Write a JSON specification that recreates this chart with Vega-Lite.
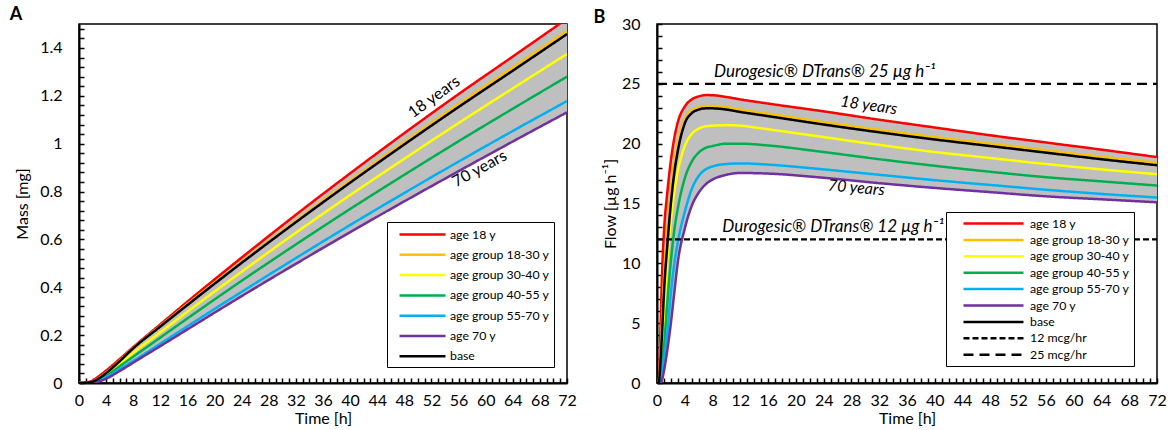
{
  "$schema": "https://vega.github.io/schema/vega-lite/v6.json",
  "padding": {"left": 8, "top": 5, "right": 0, "bottom": 0},
  "bounds": "flush",
  "spacing": 90,
  "resolve": {"scale": {"color": "independent", "strokeDash": "independent"}, "legend": {"color": "independent", "strokeDash": "independent"}},
  "config": {
    "font": "Lato",
    "view": {"stroke": "black", "strokeWidth": 1.5},
    "axis": {"domainColor": "black", "domainWidth": 2, "tickColor": "black", "tickWidth": 1.5, "tickSize": -5, "grid": false, "labelFont": "Lato", "labelFontSize": 16, "labelColor": "black", "titleFont": "Lato", "titleFontSize": 16, "titleFontWeight": "normal", "titleColor": "black", "labelOverlap": false, "labelBound": false, "labelFlush": false},
    "axisX": {"labelPadding": 14, "titlePadding": 2},
    "axisY": {"labelPadding": 22},
    "title": {"font": "Lato", "fontSize": 18, "fontWeight": "bold", "anchor": "start", "frame": "bounds", "color": "black", "baseline": "alphabetic"},
    "legend": {"orient": "none", "title": null, "labelFont": "Lato", "labelFontSize": 12.3, "labelColor": "black", "strokeColor": "black", "fillColor": "white", "padding": 4, "symbolStrokeWidth": 2.5}
  },
  "datasets": {
    "mass": [
      {"t": 0, "age 18 y": 0, "age group 18-30 y": 0, "age group 30-40 y": 0, "age group 40-55 y": 0, "age group 55-70 y": 0, "age 70 y": 0, "base": 0},
      {"t": 1, "age 18 y": 0.002, "age group 18-30 y": 0.001, "age group 30-40 y": 0.001, "age group 40-55 y": 0.001, "age group 55-70 y": 0.0004, "age 70 y": 0.0002, "base": 0.001},
      {"t": 2, "age 18 y": 0.01, "age group 18-30 y": 0.007, "age group 30-40 y": 0.005, "age group 40-55 y": 0.004, "age group 55-70 y": 0.003, "age 70 y": 0.002, "base": 0.006},
      {"t": 3, "age 18 y": 0.03, "age group 18-30 y": 0.022, "age group 30-40 y": 0.016, "age group 40-55 y": 0.013, "age group 55-70 y": 0.011, "age 70 y": 0.007, "base": 0.02},
      {"t": 4, "age 18 y": 0.052, "age group 18-30 y": 0.043, "age group 30-40 y": 0.034, "age group 40-55 y": 0.029, "age group 55-70 y": 0.024, "age 70 y": 0.018, "base": 0.041},
      {"t": 6, "age 18 y": 0.1, "age group 18-30 y": 0.093, "age group 30-40 y": 0.078, "age group 40-55 y": 0.07, "age group 55-70 y": 0.058, "age 70 y": 0.05, "base": 0.091},
      {"t": 8, "age 18 y": 0.15, "age group 18-30 y": 0.147, "age group 30-40 y": 0.126, "age group 40-55 y": 0.11, "age group 55-70 y": 0.092, "age 70 y": 0.085, "base": 0.145},
      {"t": 12, "age 18 y": 0.245, "age group 18-30 y": 0.2385, "age group 30-40 y": 0.212, "age group 40-55 y": 0.19, "age group 55-70 y": 0.164, "age 70 y": 0.154, "base": 0.236},
      {"t": 16, "age 18 y": 0.34, "age group 18-30 y": 0.33, "age group 30-40 y": 0.298, "age group 40-55 y": 0.27, "age group 55-70 y": 0.237, "age 70 y": 0.224, "base": 0.326},
      {"t": 24, "age 18 y": 0.524, "age group 18-30 y": 0.507, "age group 30-40 y": 0.465, "age group 40-55 y": 0.427, "age group 55-70 y": 0.381, "age 70 y": 0.363, "base": 0.502},
      {"t": 32, "age 18 y": 0.703, "age group 18-30 y": 0.679, "age group 30-40 y": 0.628, "age group 40-55 y": 0.579, "age group 55-70 y": 0.522, "age 70 y": 0.498, "base": 0.672},
      {"t": 40, "age 18 y": 0.876, "age group 18-30 y": 0.846, "age group 30-40 y": 0.785, "age group 40-55 y": 0.727, "age group 55-70 y": 0.66, "age 70 y": 0.63, "base": 0.837},
      {"t": 48, "age 18 y": 1.044, "age group 18-30 y": 1.007, "age group 30-40 y": 0.937, "age group 40-55 y": 0.87, "age group 55-70 y": 0.794, "age 70 y": 0.759, "base": 0.997},
      {"t": 56, "age 18 y": 1.207, "age group 18-30 y": 1.165, "age group 30-40 y": 1.086, "age group 40-55 y": 1.01, "age group 55-70 y": 0.925, "age 70 y": 0.885, "base": 1.153},
      {"t": 64, "age 18 y": 1.364, "age group 18-30 y": 1.318, "age group 30-40 y": 1.231, "age group 40-55 y": 1.146, "age group 55-70 y": 1.053, "age 70 y": 1.009, "base": 1.305},
      {"t": 72, "age 18 y": 1.522, "age group 18-30 y": 1.471, "age group 30-40 y": 1.375, "age group 40-55 y": 1.28, "age group 55-70 y": 1.178, "age 70 y": 1.131, "base": 1.458}
    ],
    "flow": [
      {"t": 0, "age 18 y": 0, "age group 18-30 y": 0, "age group 30-40 y": 0, "age group 40-55 y": 0, "age group 55-70 y": 0, "age 70 y": 0, "base": 0},
      {"t": 0.25, "age 18 y": 0.3, "age group 18-30 y": 0.1, "age group 30-40 y": 0, "age group 40-55 y": 0, "age group 55-70 y": 0, "age 70 y": 0, "base": 0.05},
      {"t": 0.5, "age 18 y": 4.5, "age group 18-30 y": 2.5, "age group 30-40 y": 1.0, "age group 40-55 y": 0.2, "age group 55-70 y": 0, "age 70 y": 0, "base": 1.8},
      {"t": 0.75, "age 18 y": 9.5, "age group 18-30 y": 5.5, "age group 30-40 y": 3.0, "age group 40-55 y": 1.5, "age group 55-70 y": 0.8, "age 70 y": 0.3, "base": 4.4},
      {"t": 1, "age 18 y": 12.6, "age group 18-30 y": 8.7, "age group 30-40 y": 5.5, "age group 40-55 y": 3.0, "age group 55-70 y": 1.9, "age 70 y": 1.0, "base": 7.5},
      {"t": 1.5, "age 18 y": 16.0, "age group 18-30 y": 13.0, "age group 30-40 y": 10.3, "age group 40-55 y": 6.8, "age group 55-70 y": 4.3, "age 70 y": 2.8, "base": 11.6},
      {"t": 2, "age 18 y": 18.6, "age group 18-30 y": 16.2, "age group 30-40 y": 13.6, "age group 40-55 y": 10.2, "age group 55-70 y": 7.5, "age 70 y": 5.0, "base": 15.0},
      {"t": 2.5, "age 18 y": 20.5, "age group 18-30 y": 18.6, "age group 30-40 y": 16.0, "age group 40-55 y": 12.8, "age group 55-70 y": 10.0, "age 70 y": 7.6, "base": 17.6},
      {"t": 3, "age 18 y": 21.8, "age group 18-30 y": 20.2, "age group 30-40 y": 17.7, "age group 40-55 y": 14.6, "age group 55-70 y": 11.8, "age 70 y": 10.1, "base": 19.4},
      {"t": 4, "age 18 y": 23.1, "age group 18-30 y": 22.1, "age group 30-40 y": 19.8, "age group 40-55 y": 17.1, "age group 55-70 y": 14.3, "age 70 y": 12.9, "base": 21.7},
      {"t": 5, "age 18 y": 23.7, "age group 18-30 y": 22.8, "age group 30-40 y": 20.8, "age group 40-55 y": 18.5, "age group 55-70 y": 16.2, "age 70 y": 14.8, "base": 22.55},
      {"t": 6, "age 18 y": 23.95, "age group 18-30 y": 23.05, "age group 30-40 y": 21.25, "age group 40-55 y": 19.25, "age group 55-70 y": 17.3, "age 70 y": 15.9, "base": 22.85},
      {"t": 7, "age 18 y": 24.06, "age group 18-30 y": 23.15, "age group 30-40 y": 21.45, "age group 40-55 y": 19.65, "age group 55-70 y": 17.85, "age 70 y": 16.6, "base": 22.95},
      {"t": 8, "age 18 y": 24.05, "age group 18-30 y": 23.15, "age group 30-40 y": 21.5, "age group 40-55 y": 19.8, "age group 55-70 y": 18.1, "age 70 y": 17.0, "base": 22.95},
      {"t": 10, "age 18 y": 23.9, "age group 18-30 y": 23.05, "age group 30-40 y": 21.55, "age group 40-55 y": 20.0, "age group 55-70 y": 18.3, "age 70 y": 17.4, "base": 22.85},
      {"t": 12, "age 18 y": 23.7, "age group 18-30 y": 22.85, "age group 30-40 y": 21.5, "age group 40-55 y": 20.0, "age group 55-70 y": 18.35, "age 70 y": 17.55, "base": 22.65},
      {"t": 16, "age 18 y": 23.35, "age group 18-30 y": 22.5, "age group 30-40 y": 21.2, "age group 40-55 y": 19.85, "age group 55-70 y": 18.25, "age 70 y": 17.5, "base": 22.3},
      {"t": 24, "age 18 y": 22.7, "age group 18-30 y": 21.8, "age group 30-40 y": 20.55, "age group 40-55 y": 19.3, "age group 55-70 y": 17.85, "age 70 y": 17.15, "base": 21.6},
      {"t": 32, "age 18 y": 22.0, "age group 18-30 y": 21.15, "age group 30-40 y": 19.9, "age group 40-55 y": 18.7, "age group 55-70 y": 17.4, "age 70 y": 16.7, "base": 20.95},
      {"t": 40, "age 18 y": 21.35, "age group 18-30 y": 20.55, "age group 30-40 y": 19.3, "age group 40-55 y": 18.15, "age group 55-70 y": 16.95, "age 70 y": 16.3, "base": 20.35},
      {"t": 48, "age 18 y": 20.7, "age group 18-30 y": 20.0, "age group 30-40 y": 18.8, "age group 40-55 y": 17.65, "age group 55-70 y": 16.55, "age 70 y": 15.95, "base": 19.8},
      {"t": 56, "age 18 y": 20.1, "age group 18-30 y": 19.45, "age group 30-40 y": 18.3, "age group 40-55 y": 17.2, "age group 55-70 y": 16.15, "age 70 y": 15.6, "base": 19.25},
      {"t": 64, "age 18 y": 19.5, "age group 18-30 y": 18.9, "age group 30-40 y": 17.85, "age group 40-55 y": 16.85, "age group 55-70 y": 15.8, "age 70 y": 15.35, "base": 18.7},
      {"t": 72, "age 18 y": 18.88, "age group 18-30 y": 18.4, "age group 30-40 y": 17.45, "age group 40-55 y": 16.5, "age group 55-70 y": 15.5, "age 70 y": 15.1, "base": 18.2}
    ],
    "ref": [
      {"t": 0, "series": "12 mcg/hr", "flow": 12},
      {"t": 72, "series": "12 mcg/hr", "flow": 12},
      {"t": 0, "series": "25 mcg/hr", "flow": 25},
      {"t": 72, "series": "25 mcg/hr", "flow": 25}
    ]
  },
  "hconcat": [
    {
      "width": 488,
      "height": 359,
      "title": {"text": "A", "dx": -5, "offset": -3},
      "layer": [
        {
          "data": {"name": "mass"},
          "mark": {"type": "area", "color": "#BFBFBF", "interpolate": "monotone", "clip": true},
          "encoding": {
            "x": {"field": "t", "type": "quantitative", "scale": {"domain": [0, 72], "nice": false}, "axis": {"labelOverlap": false, "tickCount": 100}},
            "y": {"field": "age 18 y", "type": "quantitative", "scale": {"domain": [0, 1.5], "nice": false}, "axis": {"labelOverlap": false, "tickCount": 100}},
            "y2": {"field": "age 70 y"}
          }
        },
        {
          "data": {"name": "mass"},
          "transform": [{"fold": ["age 18 y", "age group 18-30 y", "age group 30-40 y", "age group 40-55 y", "age group 55-70 y", "age 70 y", "base"], "as": ["series", "mass"]}],
          "mark": {"type": "line", "strokeWidth": 2.5, "interpolate": "monotone", "clip": true},
          "encoding": {
            "x": {"field": "t", "type": "quantitative", "scale": {"domain": [0, 72], "nice": false},
              "axis": {"title": "Time [h]", "labelOverlap": false, "tickCount": 100, "values": [0,1,2,3,4,5,6,7,8,9,10,11,12,13,14,15,16,17,18,19,20,21,22,23,24,25,26,27,28,29,30,31,32,33,34,35,36,37,38,39,40,41,42,43,44,45,46,47,48,49,50,51,52,53,54,55,56,57,58,59,60,61,62,63,64,65,66,67,68,69,70,71,72], "labelExpr": "datum.value % 4 === 0 ? format(datum.value, 'd') : ''"}},
            "y": {"field": "mass", "type": "quantitative", "scale": {"domain": [0, 1.5], "nice": false},
              "axis": {"title": "Mass [mg]", "titlePadding": 9, "labelOverlap": false, "tickCount": 100, "values": [0,0.04,0.08,0.12,0.16,0.2,0.24,0.28,0.32,0.36,0.4,0.44,0.48,0.52,0.56,0.6,0.64,0.68,0.72,0.76,0.8,0.84,0.88,0.92,0.96,1,1.04,1.08,1.12,1.16,1.2,1.24,1.28,1.32,1.36,1.4,1.44,1.48], "labelExpr": "abs(datum.value*5 - round(datum.value*5)) < 0.001 ? format(datum.value, '.1~f') : ''"}},
            "color": {"field": "series", "type": "nominal",
              "scale": {"domain": ["age 18 y", "age group 18-30 y", "age group 30-40 y", "age group 40-55 y", "age group 55-70 y", "age 70 y", "base"], "range": ["#FF0000", "#FFC000", "#FFFF00", "#00B050", "#00B0F0", "#7030A0", "#000000"]},
              "legend": {"legendX": 308, "legendY": 198, "symbolType": "M0,0H6.57", "symbolSize": 196, "labelOffset": 42, "rowPadding": 5.3}},
            "strokeDash": {"field": "series", "type": "nominal",
              "scale": {"domain": ["age 18 y", "age group 18-30 y", "age group 30-40 y", "age group 40-55 y", "age group 55-70 y", "age 70 y", "base"], "range": [[1,0],[1,0],[1,0],[1,0],[1,0],[1,0],[1,0]]},
              "legend": {"legendX": 308, "legendY": 198, "symbolType": "M0,0H6.57", "symbolSize": 196, "labelOffset": 42, "rowPadding": 5.3}}
          }
        },
        {
          "data": {"values": [{}]},
          "mark": {"type": "text", "angle": 324, "fontSize": 16, "font": "Lato", "color": "black"},
          "encoding": {"x": {"datum": 52.4, "type": "quantitative"}, "y": {"datum": 1.195, "type": "quantitative"}, "text": {"value": "18 years"}}
        },
        {
          "data": {"values": [{}]},
          "mark": {"type": "text", "angle": 331, "fontSize": 16, "font": "Lato", "color": "black"},
          "encoding": {"x": {"datum": 59.1, "type": "quantitative"}, "y": {"datum": 0.895, "type": "quantitative"}, "text": {"value": "70 years"}}
        }
      ]
    },
    {
      "width": 500,
      "height": 359,
      "title": {"text": "B", "dx": -9, "offset": -11},
      "layer": [
        {
          "data": {"name": "flow"},
          "mark": {"type": "area", "color": "#BFBFBF", "interpolate": "monotone", "clip": true},
          "encoding": {
            "x": {"field": "t", "type": "quantitative", "scale": {"domain": [0, 72], "nice": false}, "axis": {"labelOverlap": false, "tickCount": 100}},
            "y": {"field": "age 18 y", "type": "quantitative", "scale": {"domain": [0, 30], "nice": false}, "axis": {"labelOverlap": false, "tickCount": 100}},
            "y2": {"field": "age 70 y"}
          }
        },
        {
          "data": {"name": "flow"},
          "transform": [{"fold": ["age 18 y", "age group 18-30 y", "age group 30-40 y", "age group 40-55 y", "age group 55-70 y", "age 70 y", "base"], "as": ["series", "flow"]}],
          "mark": {"type": "line", "strokeWidth": 2.5, "interpolate": "monotone", "clip": true},
          "encoding": {
            "x": {"field": "t", "type": "quantitative", "scale": {"domain": [0, 72], "nice": false},
              "axis": {"title": "Time [h]", "labelOverlap": false, "tickCount": 100, "values": [0,1,2,3,4,5,6,7,8,9,10,11,12,13,14,15,16,17,18,19,20,21,22,23,24,25,26,27,28,29,30,31,32,33,34,35,36,37,38,39,40,41,42,43,44,45,46,47,48,49,50,51,52,53,54,55,56,57,58,59,60,61,62,63,64,65,66,67,68,69,70,71,72], "labelExpr": "datum.value % 4 === 0 ? format(datum.value, 'd') : ''"}},
            "y": {"field": "flow", "type": "quantitative", "scale": {"domain": [0, 30], "nice": false},
              "axis": {"title": "Flow [µg h⁻¹]", "titlePadding": 3, "labelOverlap": false, "tickCount": 100, "values": [0,1,2,3,4,5,6,7,8,9,10,11,12,13,14,15,16,17,18,19,20,21,22,23,24,25,26,27,28,29,30], "labelExpr": "datum.value % 5 === 0 ? format(datum.value, 'd') : ''"}},
            "color": {"field": "series", "type": "nominal",
              "scale": {"domain": ["age 18 y", "age group 18-30 y", "age group 30-40 y", "age group 40-55 y", "age group 55-70 y", "age 70 y", "base", "12 mcg/hr", "25 mcg/hr"], "range": ["#FF0000", "#FFC000", "#FFFF00", "#00B050", "#00B0F0", "#7030A0", "#000000", "#000000", "#000000"]},
              "legend": {"legendX": 289, "legendY": 188, "symbolType": "M1,0H11", "symbolSize": 144, "labelOffset": 65, "rowPadding": 2.4}},
            "strokeDash": {"field": "series", "type": "nominal",
              "scale": {"domain": ["age 18 y", "age group 18-30 y", "age group 30-40 y", "age group 40-55 y", "age group 55-70 y", "age 70 y", "base", "12 mcg/hr", "25 mcg/hr"], "range": [[1,0],[1,0],[1,0],[1,0],[1,0],[1,0],[1,0],[6,3],[10,6]]},
              "legend": {"legendX": 289, "legendY": 188, "symbolType": "M1,0H11", "symbolSize": 144, "labelOffset": 65, "rowPadding": 2.4}}
          }
        },
        {
          "data": {"name": "ref"},
          "mark": {"type": "line", "strokeWidth": 2.2, "clip": true},
          "encoding": {
            "x": {"field": "t", "type": "quantitative"},
            "y": {"field": "flow", "type": "quantitative"},
            "color": {"field": "series", "type": "nominal"},
            "strokeDash": {"field": "series", "type": "nominal"}
          }
        },
        {
          "data": {"values": [{}]},
          "mark": {"type": "text", "align": "left", "fontSize": 17, "font": "Lato", "fontStyle": "italic", "color": "black"},
          "encoding": {"x": {"datum": 8.2, "type": "quantitative"}, "y": {"datum": 26.0, "type": "quantitative"}, "text": {"value": "Durogesic® DTrans® 25 µg h⁻¹"}}
        },
        {
          "data": {"values": [{}]},
          "mark": {"type": "text", "align": "left", "fontSize": 17, "font": "Lato", "fontStyle": "italic", "color": "black"},
          "encoding": {"x": {"datum": 9.4, "type": "quantitative"}, "y": {"datum": 13.06, "type": "quantitative"}, "text": {"value": "Durogesic® DTrans® 12 µg h⁻¹"}}
        },
        {
          "data": {"values": [{}]},
          "mark": {"type": "text", "angle": 8, "fontSize": 16, "font": "Lato", "fontStyle": "italic", "color": "black"},
          "encoding": {"x": {"datum": 30.5, "type": "quantitative"}, "y": {"datum": 23.2, "type": "quantitative"}, "text": {"value": "18 years"}}
        },
        {
          "data": {"values": [{}]},
          "mark": {"type": "text", "angle": 5, "fontSize": 16, "font": "Lato", "fontStyle": "italic", "color": "black"},
          "encoding": {"x": {"datum": 28.7, "type": "quantitative"}, "y": {"datum": 16.3, "type": "quantitative"}, "text": {"value": "70 years"}}
        }
      ]
    }
  ]
}
